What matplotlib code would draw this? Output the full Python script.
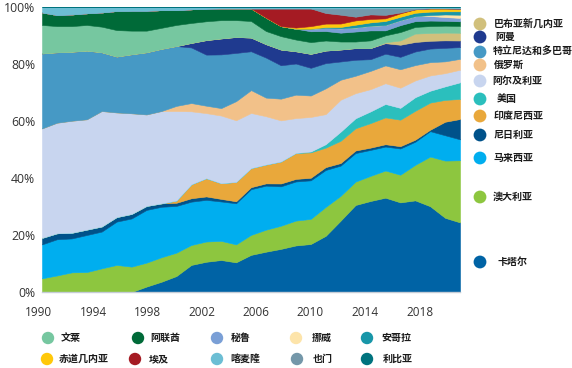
import numpy as np
import matplotlib
matplotlib.use("Agg")
import matplotlib.pyplot as plt

plt.rcParams['font.family'] = ['Noto Sans CJK SC', 'DejaVu Sans']

years = np.arange(1990, 2019)

# shares in % (bottom to top of the stack)
qatar = [0, 0, 0, 0, 0, 0, 0, 1.9, 3.6, 5.6, 9.5, 10.6, 11.2, 10.4, 13.0, 14.1, 15.1, 16.3, 16.8, 19.6,
         25.0, 30.5, 31.9, 32.3, 31.1, 31.7, 29.7, 25.8, 24.3]
australia = [4.8, 5.8, 6.9, 7.0, 8.3, 9.5, 8.9, 8.4, 8.6, 8.2, 7.0, 7.1, 6.7, 6.3, 7.0, 7.7, 8.1, 8.7, 8.8, 10.1,
             8.7, 8.2, 8.8, 9.3, 9.6, 12.3, 17.2, 19.9, 21.7]
malaysia = [11.9, 12.7, 11.9, 13.0, 12.9, 15.2, 16.9, 18.5, 17.7, 16.4, 15.2, 14.6, 13.8, 14.4, 16.0, 15.4, 13.8,
            13.7, 13.5, 12.9, 10.6, 10.0, 9.1, 8.2, 9.1, 8.0, 8.8, 8.8, 7.3]
nigeria = [2.3, 2.1, 2.0, 1.9, 1.8, 1.6, 1.6, 1.4, 1.2, 1.1, 1.2, 1.2, 0.9, 0.7, 0.7, 0.8, 1.0, 0.9, 0.9, 1.0,
           0.9, 0.9, 0.8, 0.8, 0.8, 0.7, 0.5, 4.7, 7.1]
indonesia = [0] * 9 + [0.8, 4.9, 6.4, 5.5, 6.8, 6.7, 6.6, 7.7, 9.1, 8.9, 6.8, 7.8, 7.8, 8.6, 9.2, 9.2, 10.0,
                       9.4, 7.6, 7.0]
usa = [0] * 18 + [0.3, 1.2, 3.2, 3.5, 4.1, 4.6, 4.1, 4.7, 4.1, 4.7, 5.8]
algeria = [38.4, 38.8, 39.3, 38.7, 40.5, 36.7, 35.3, 32.1, 32.4, 31.4, 25.6, 22.8, 23.7, 21.6, 19.3, 16.9, 14.4,
           12.2, 12.1, 10.5, 11.2, 8.8, 7.8, 7.1, 7.0, 5.8, 5.3, 4.6, 4.4]
russia = [0] * 9 + [1.8, 2.9, 2.6, 2.6, 6.7, 8.0, 6.5, 7.6, 8.2, 7.5, 9.0, 7.0, 6.1, 6.4, 6.1, 6.4, 5.3, 4.6,
                    4.1, 3.8]
trinidad = [26.3, 24.7, 24.2, 24.1, 20.6, 19.6, 20.7, 21.8, 21.8, 21.0, 19.5, 17.9, 18.8, 16.9, 13.6, 14.0, 11.7,
            10.9, 9.7, 8.8, 6.4, 5.6, 4.1, 4.0, 4.3, 4.7, 4.7, 4.7, 4.1]
oman = [0] * 10 + [1.6, 5.1, 5.6, 5.6, 4.8, 4.7, 5.5, 4.3, 4.9, 4.4, 4.2, 4.1, 3.9, 3.6, 4.2, 3.3, 2.7, 2.6, 2.3]
png = [0] * 23 + [0.3, 1.5, 2.9, 2.7, 2.7, 2.7]
brunei = [10.0, 9.2, 9.0, 9.0, 9.0, 9.3, 8.3, 7.6, 7.4, 7.4, 7.0, 6.6, 6.4, 5.9, 5.8, 4.6, 4.7, 4.1, 4.1, 3.5,
          2.8, 2.3, 2.7, 2.4, 2.9, 2.3, 2.4, 2.4, 2.4]
uae = [4.4, 3.9, 4.1, 4.1, 5.0, 6.7, 7.0, 7.0, 6.2, 5.2, 4.8, 4.4, 4.1, 4.1, 4.4, 4.7, 3.5, 3.8, 3.8, 3.3,
       3.1, 3.5, 3.5, 1.7, 2.4, 2.0, 1.9, 1.7, 1.6]
peru = [0] * 18 + [0.9, 1.1, 1.5, 1.4, 1.6, 1.8, 1.7, 1.7, 1.6, 1.3, 1.2]
norway = [0] * 26 + [0.3, 0.9, 1.1]
angola = [0] * 19 + [0.3, 0.5, 1.0, 1.2, 1.4, 1.2, 1.2, 1.2, 1.1, 1.2]
eq_guinea = [0] * 17 + [0.4, 0.9, 1.2, 1.2, 1.5, 1.2, 0.9, 1.2, 1.2, 1.1, 1.0, 0.9]
egypt = [0] * 15 + [3.2, 6.2, 6.7, 6.2, 3.7, 3.1, 1.3, 1.6, 1.2, 0.3, 0, 0, 0, 0]
yemen = [0] * 19 + [1.6, 2.2, 2.9, 2.1, 2.3, 1.5, 0.4, 0.1, 0.1, 0.2]
cameroon = [1.9, 2.8, 2.6, 2.2, 1.9, 1.4, 1.3, 1.3, 1.1, 1.1, 0.8, 0.6, 0.5, 0.5, 0.5, 0.5, 0.5, 0.5, 0.5, 0.5,
            0.5, 0.5, 0.5, 0.4, 0.4, 0.4, 0.4, 0.4, 0.4]
libya = [0] * 29

names = ['卡塔尔', '澳大利亚', '马来西亚', '尼日利亚', '印度尼西亚', '美国', '阿尔及利亚', '俄罗斯',
         '特立尼达和多巴哥', '阿曼', '巴布亚新几内亚', '文莱', '阿联酋', '秘鲁', '挪威', '安哥拉',
         '赤道几内亚', '埃及', '也门', '喀麦隆', '利比亚']
series = [qatar, australia, malaysia, nigeria, indonesia, usa, algeria, russia, trinidad, oman, png,
          brunei, uae, peru, norway, angola, eq_guinea, egypt, yemen, cameroon, libya]
colors = ['#0063A5', '#8DC63F', '#00AEEF', '#00528A', '#E9A83B', '#2BBFBD', '#C8D5EF', '#F2C189',
          '#4699C5', '#1F3A8F', '#D1C07C', '#76C7A0', '#006A38', '#7A9FD6', '#FDE4AA', '#1896A8',
          '#FFC80A', '#A51B23', '#7497A9', '#6CBED4', '#00737E']
col = dict(zip(names, colors))

data = np.array(series, dtype=float)
data = data / data.sum(axis=0) * 100

fig = plt.figure(figsize=(5.72, 3.68), dpi=100)
ax = fig.add_axes([42 / 572, 1 - 292 / 368, 418 / 572, 285 / 368])
polys = ax.stackplot(years, data, colors=colors, linewidth=0)
for p, c in zip(polys, colors):
    p.set_edgecolor(c)
    p.set_linewidth(0.4)

ax.set_xlim(1990, 2018)
ax.set_ylim(0, 100)
for s in ['top', 'right', 'left']:
    ax.spines[s].set_visible(False)
ax.spines['bottom'].set_color('#c5ccd6')
ax.spines['bottom'].set_linewidth(1)
ax.set_yticks(np.arange(0, 101, 20))
ax.set_yticklabels([f'{v}%' for v in range(0, 101, 20)], fontsize=8.8, color='#333333',
                   family=['Open Sans', 'DejaVu Sans'])
ax.tick_params(axis='y', length=0, pad=5)
ax.set_xticks([])

# year labels, placed where they sit in the original
year_labels = ['1990', '1994', '1998', '2002', '2006', '2010', '2014', '2018']
label_px = [38.5, 93, 147, 202, 256, 310, 365, 420]

ov = fig.add_axes([0, 0, 1, 1], zorder=5)
ov.set_xlim(0, 572)
ov.set_ylim(368, 0)
ov.axis('off')
ov.patch.set_alpha(0)

for lab, px in zip(year_labels, label_px):
    ov.text(px, 312, lab, ha='center', va='center', fontsize=8.5, color='#333333',
            family=['Open Sans', 'DejaVu Sans'])

right_legend = [('巴布亚新几内亚', 24, 494), ('阿曼', 37, 495), ('特立尼达和多巴哥', 52, 493),
                ('俄罗斯', 65, 494), ('阿尔及利亚', 81, 492), ('美国', 99, 497),
                ('印度尼西亚', 116, 494), ('尼日利亚', 135, 494), ('马来西亚', 158, 493),
                ('澳大利亚', 197, 493), ('卡塔尔', 262, 497)]
for name, y, tx in right_legend:
    ov.scatter([480], [y], s=85, color=col[name], edgecolors='none')
    ov.text(tx, y, name, ha='left', va='center', fontsize=7.2, fontweight='bold', color='#1a1a1a')

bottom_legend = [('文莱', 48, 61, 338), ('阿联酋', 138, 150, 338), ('秘鲁', 217, 231, 338),
                 ('挪威', 296, 312, 338), ('安哥拉', 367, 381, 338),
                 ('赤道几内亚', 47, 59, 359), ('埃及', 135, 149, 359), ('喀麦隆', 217, 230, 359),
                 ('也门', 297, 313, 359), ('利比亚', 367, 383, 359)]
for name, dx, tx, y in bottom_legend:
    ov.scatter([dx], [y], s=80, color=col[name], edgecolors='none')
    ov.text(tx, y, name, ha='left', va='center', fontsize=7.2, fontweight='bold', color='#1a1a1a')

fig.savefig('out.png', dpi=100)
